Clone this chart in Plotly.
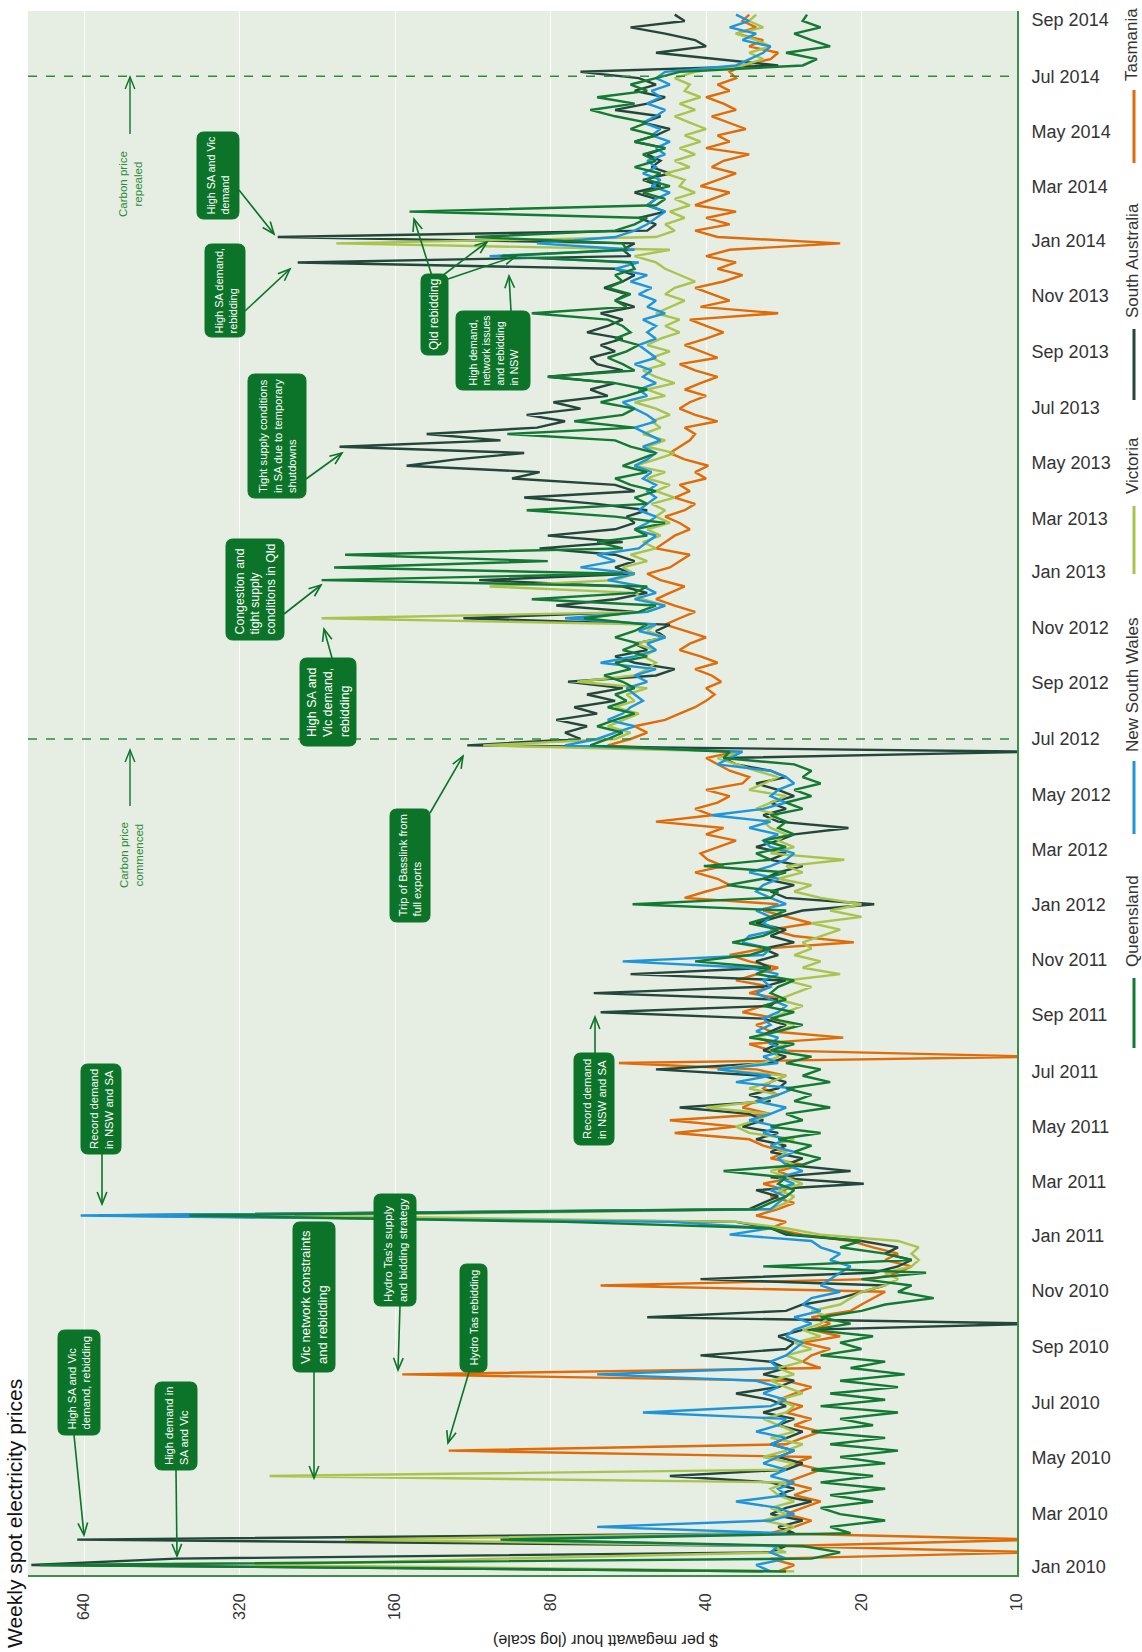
import plotly.graph_objects as go
import pandas as pd
import math

# ---------------- DATA (weekly spot prices, $/MWh) ----------------
weeks = pd.date_range("2009-12-27", periods=246, freq="7D")

qld = [28, 780, 25, 22, 26, 100, 21, 23, 18, 22, 24, 19, 23,
       18, 24, 19, 25, 18, 22, 17, 23, 18, 25, 19, 22, 17,
       24, 18, 23, 17, 22, 16.5, 21, 18, 24, 20, 22, 19, 25,
       21, 24, 20, 18, 14.5, 17, 16, 20, 15, 31, 16, 18, 22, 20,
       27, 30, 75, 400, 32, 30, 28, 27, 29, 28, 37, 26, 24,
       27, 25, 29, 24, 30, 26, 28, 23, 27, 25, 28, 23, 26,
       24, 28, 25, 30, 27, 33, 29, 26, 30, 27, 31, 28, 30,
       29, 27, 32, 30, 42, 33, 30, 35.6, 31, 29, 33, 30, 28,
       55.5, 30, 29, 36.4, 31, 28, 40.4, 30, 32, 28, 31, 27, 29,
       28, 30, 26, 28, 25, 27, 24, 26, 25, 27, 37, 36, 67,
       62, 58, 65, 60, 55, 62, 57, 60, 55, 58, 63, 56, 60,
       52, 58, 54, 60, 55, 52, 69, 54, 50, 87, 55, 52, 222,
       58, 210, 81, 200, 58, 65, 52, 55, 48, 60, 89, 52, 55,
       50, 56, 60, 52, 58, 54, 50, 56, 60, 97, 55, 72, 58,
       55, 64, 57, 52, 60, 81, 55, 58, 62, 57, 54, 60, 56,
       58, 62, 87, 57, 60, 56, 62, 58, 60, 55, 56, 100, 57,
       58, 112, 60, 55, 52, 150, 50, 48, 53, 47, 52, 49, 55,
       50, 53, 48, 55, 50, 56, 52, 60, 67, 55, 65, 52, 56,
       50, 45, 26, 24.4, 28, 23, 25, 27, 24, 26, 25.5]

nsw = [30, 32, 28, 30, 29, 99, 28, 65, 30, 27, 29, 35, 28,
       29, 27, 30, 28, 31, 29, 27, 30, 28, 32, 29, 28, 53,
       30, 28, 31, 29, 32, 65, 29, 30, 28, 27, 26, 28, 27,
       25, 27, 24, 26, 25, 22, 24, 23, 22, 21, 23, 22, 24, 25,
       36, 30, 47, 650, 30, 29, 28, 30, 27, 29, 26, 28, 29,
       27, 30, 28, 31, 29, 33, 30, 28, 32, 29, 27, 35, 30,
       38, 29, 31, 28, 30, 29, 32, 30, 31, 29, 28, 30, 32,
       30, 31, 29, 33, 58, 31, 30, 34, 33, 29, 31, 30, 32,
       28, 30, 32, 31, 29, 33, 30, 28, 27, 30, 31, 29, 33,
       30, 39, 31, 28, 30, 29, 27, 28, 30, 38, 36, 34, 75,
       65, 60, 55, 62, 58, 56, 53, 55, 57, 52, 55, 50, 64,
       55, 50, 52, 48, 54, 50, 75, 52, 48, 55, 50, 53, 62,
       55, 70, 60, 65, 54, 52, 50, 55, 52, 50, 54, 52, 50,
       52, 50, 53, 51, 55, 52, 50, 53, 49, 52, 55, 50, 52,
       55, 58, 52, 54, 50, 53, 51, 55, 50, 52, 54, 50, 52,
       50, 53, 48, 52, 50, 54, 51, 56, 52, 60, 54, 105, 55,
       85, 60, 55, 52, 50, 48, 52, 50, 47, 51, 49, 53, 50,
       52, 48, 50, 47, 51, 49, 53, 50, 48, 52, 49, 51, 47,
       50, 48, 35, 33, 31, 30, 34, 32, 36, 33, 35]

vic = [27, 300, 100, 28, 30, 200, 29, 27, 31, 28, 30, 27, 29,
       30, 28, 280, 29, 27, 31, 28, 26, 30, 27, 29, 31, 28,
       27, 29, 26, 28, 30, 27, 29, 26, 28, 25, 27, 24, 26,
       24, 23, 25, 22, 21, 20, 18, 17, 18, 16, 15.5, 16, 15.5, 17,
       24, 28, 35, 250, 30, 28, 27, 29, 26, 28, 30, 27, 29,
       28, 30, 27, 33, 35, 32, 30, 40, 31, 29, 33, 30, 28,
       38, 31, 29, 30, 28, 32, 29, 27, 30, 28, 26, 29, 27,
       25, 28, 22, 26, 24, 27, 25, 26, 24, 22, 25, 20, 23,
       20, 24, 27, 25, 29, 26, 28, 21.6, 30, 27, 29, 28, 30,
       31, 29, 32, 30, 28, 33, 31, 29, 32, 35, 38, 34, 108,
       60, 56, 62, 58, 54, 60, 55, 57, 52, 71, 55, 52, 50,
       53, 50, 55, 48, 52, 50, 222, 52, 48, 53, 55, 105, 60,
       55, 58, 52, 56, 50, 53, 49, 52, 47, 50, 48, 51, 46,
       50, 47, 52, 48, 55, 50, 46, 52, 48, 53, 49, 51, 47,
       50, 55, 48, 52, 46, 50, 53, 48, 51, 47, 52, 49, 45,
       48, 45, 50, 47, 44, 48, 46, 42, 45, 48, 50, 55, 47,
       208, 50, 46, 48, 44, 47, 43, 46, 42, 45, 44, 48, 43,
       46, 42, 45, 41, 44, 40, 43, 46, 42, 45, 41, 44, 43,
       46, 42, 34, 31, 33, 30, 32, 35, 31, 33, 32]

sa = [28, 810, 425, 30, 28, 660, 27, 29, 26, 30, 28, 25, 29,
      27, 30, 47, 28, 26, 29, 27, 30, 28, 26, 29, 27, 31,
      28, 30, 35, 29, 27, 31, 28, 30, 41, 28, 27, 29, 26,
      9, 52, 28, 26, 22, 20, 18, 41, 19, 17, 16, 18, 17, 20,
      28, 30, 35, 600, 33, 31, 29, 32, 19.8, 30, 21, 28, 26,
      30, 28, 32, 29, 34, 31, 33, 45, 30, 33, 29, 28, 31,
      50, 30, 28, 31, 29, 32, 30, 28, 31, 64, 30, 29, 66,
      31, 28, 56, 30, 32, 29, 31, 27, 30, 28, 32, 29, 26,
      18.9, 28, 30, 27, 31, 29, 26, 30, 28, 32, 29, 27, 21.2,
      29, 31, 28, 30, 27, 29, 32, 28, 30, 35, 37, 9, 116,
      70, 75, 68, 78, 65, 72, 60, 68, 58, 74, 50, 46, 55,
      60, 52, 55, 48, 50, 47, 118, 55, 78, 60, 52, 58, 110,
      55, 60, 55, 60, 84, 58, 81, 60, 55, 57, 52, 65, 90,
      55, 60, 95, 84, 152, 122, 90, 205, 100, 139, 85, 75, 89,
      70, 79, 62, 67, 60, 81, 58, 65, 67, 60, 64, 58, 68,
      62, 58, 64, 55, 60, 57, 63, 58, 55, 60, 247, 56, 58,
      55, 270, 52, 50, 54, 48, 52, 50, 55, 49, 53, 47, 51,
      49, 52, 48, 55, 50, 47, 53, 49, 60, 52, 48, 55, 50,
      54, 70, 29, 38, 50, 40, 42, 48, 56, 44, 46]

tas = [29, 27, 30, 9, 28, 9, 30, 27, 25, 28, 26, 24, 27,
       25, 28, 26, 24, 27, 25, 126, 28, 26, 24, 27, 25, 28,
       26, 29, 27, 25, 28, 155, 24, 26, 25, 23, 26, 22, 25,
       23, 25, 21, 20, 19, 18, 64, 19, 17, 16, 18, 17, 19, 21,
       26, 30, 28, 32, 29, 27, 30, 28, 31, 27, 29, 26, 30,
       28, 31, 33, 46, 35, 47, 30, 34, 32, 29, 31, 30, 28,
       32, 59, 9, 30, 33, 21.7, 30, 32, 29, 34, 31, 28, 33,
       30, 35, 32, 29, 33, 36, 31, 20.7, 27, 30, 25, 28, 31,
       29, 44, 40, 36, 38, 42, 37, 39.7, 41, 38, 35, 40, 37,
       50, 39, 42, 38, 36, 40, 34, 33, 36, 38, 40, 35, 62,
       56, 52, 55, 48, 45, 42, 40, 38.5, 40, 37.4, 39, 42, 38,
       41, 45, 43, 40, 44, 48, 45, 42, 46, 50, 47, 44, 49,
       52, 47, 45, 43, 50, 48, 46, 43, 45, 48, 44, 42, 46,
       43, 45, 40, 42, 39.6, 44, 47, 45, 43, 42, 44, 38, 42,
       45, 43, 40, 44, 41, 38, 42, 45, 38, 41, 44, 40, 37,
       40, 43, 29, 41, 36, 39, 42, 37, 34, 38, 35, 40, 36,
       22, 38, 42, 36, 40, 35, 42, 39, 36, 41, 38, 35, 39,
       37, 33, 40, 36, 38, 33.5, 36, 39, 35, 37, 40, 36, 38,
       35, 36, 34, 30, 29, 33, 31, 35, 32, 34, 33]

regions = ["Queensland", "New South Wales", "Victoria", "South Australia", "Tasmania"]
price_ticks = [10, 20, 40, 80, 160, 320, 640]
carbon_dates = ["2012-07-01", "2014-07-01"]

# ---------------- STYLE ----------------
COLORS = {"Queensland": "#137a33", "New South Wales": "#1f95d9", "Victoria": "#a9c44e",
          "South Australia": "#24473b", "Tasmania": "#e06b07"}
GREEN = "#0c7428"
SANS = "Liberation Sans, Arial, sans-serif"
W, H = 1142, 1652
L, R, T, B = 28, 1017, 11, 1575

def px(X):
    return (X - L) / (R - L)

def py(Y):
    return (B - Y) / (B - T)

series = {"Queensland": qld, "New South Wales": nsw, "Victoria": vic,
          "South Australia": sa, "Tasmania": tas}
for k, v in series.items():
    assert len(v) == len(weeks), (k, len(v))

fig = go.Figure()
for name in ["Tasmania", "South Australia", "Victoria", "New South Wales", "Queensland"]:
    fig.add_trace(go.Scatter(x=series[name], y=weeks, mode="lines", name=name,
                             line=dict(color=COLORS[name], width=2.4),
                             showlegend=False, hoverinfo="skip"))

shapes = []
annotations = []

# carbon price dashed lines
for d in carbon_dates:
    shapes.append(dict(type="line", xref="paper", x0=0, x1=1, yref="y", y0=d, y1=d,
                       line=dict(color="#2f8c3c", width=1.5, dash="dash"), layer="above"))

def arrow(tail, tip, width=1.6):
    tx, ty = tail
    hx, hy = tip
    shapes.append(dict(type="line", xref="paper", yref="paper",
                       x0=px(tx), y0=py(ty), x1=px(hx), y1=py(hy),
                       line=dict(color=GREEN, width=width), layer="above"))
    ang = math.atan2(ty - hy, tx - hx)
    hl, ha = 13, 0.38
    p1 = (hx + hl * math.cos(ang + ha), hy + hl * math.sin(ang + ha))
    p2 = (hx + hl * math.cos(ang - ha), hy + hl * math.sin(ang - ha))
    shapes.append(dict(type="path", xref="paper", yref="paper",
                       path=f"M {px(p1[0])},{py(p1[1])} L {px(hx)},{py(hy)} L {px(p2[0])},{py(p2[1])}",
                       line=dict(color=GREEN, width=width), layer="above"))

def rounded(x0, y0, x1, y1, r=7):
    pts = [
        f"M {px(x0 + r)},{py(y0)}",
        f"L {px(x1 - r)},{py(y0)}", f"Q {px(x1)},{py(y0)} {px(x1)},{py(y0 + r)}",
        f"L {px(x1)},{py(y1 - r)}", f"Q {px(x1)},{py(y1)} {px(x1 - r)},{py(y1)}",
        f"L {px(x0 + r)},{py(y1)}", f"Q {px(x0)},{py(y1)} {px(x0)},{py(y1 - r)}",
        f"L {px(x0)},{py(y0 + r)}", f"Q {px(x0)},{py(y0)} {px(x0 + r)},{py(y0)}", "Z"]
    shapes.append(dict(type="path", xref="paper", yref="paper", path=" ".join(pts),
                       fillcolor=GREEN, line=dict(color=GREEN, width=1), layer="above"))

def box(text, x0, y0, x1, y1, size):
    rounded(x0, y0, x1, y1)
    annotations.append(dict(text=text, xref="paper", yref="paper",
                            x=px((x0 + x1) / 2), y=py((y0 + y1) / 2),
                            xanchor="center", yanchor="middle", textangle=-90, showarrow=False,
                            font=dict(family=SANS, size=size, color="white"), align="left"))

def note(text, cx, cy, size=11.5):
    annotations.append(dict(text=text, xref="paper", yref="paper", x=px(cx), y=py(cy),
                            xanchor="center", yanchor="middle", textangle=-90, showarrow=False,
                            font=dict(family=SANS, size=size, color="#2f8c3c"), align="center"))

box("High SA and Vic<br>demand, rebidding", 58, 1330, 100, 1435, 11.3)
arrow((74, 1435), (84, 1535))
box("High demand in<br>SA and Vic", 155, 1382, 197, 1470, 11.2)
arrow((176, 1470), (177, 1556))
box("Vic network constraints<br>and rebidding", 293, 1222, 335, 1372, 13)
arrow((314, 1372), (314, 1478))
box("Hydro Tas's supply<br>and bidding strategy", 374, 1194, 416, 1306, 11.5)
arrow((400, 1306), (398, 1370))
box("Hydro Tas rebidding", 460, 1264, 487, 1372, 10.8)
arrow((469, 1372), (448, 1443))
box("Record demand<br>in NSW and SA", 81, 1064, 121, 1154, 11.3)
arrow((102, 1154), (102, 1204))
box("Record demand<br>in NSW and SA", 574, 1053, 614, 1145, 11.3)
arrow((595, 1053), (595, 1017))
box("Trip of Basslink from<br>full exports", 390, 809, 430, 922, 11.3)
arrow((430, 813), (463, 756))
note("Carbon price<br>commenced", 131, 855)
arrow((130, 806), (130, 750), width=1.4)
note("Carbon price<br>repealed", 131, 184)
arrow((130, 134), (130, 77), width=1.4)
box("High SA and<br>Vic demand,<br>rebidding", 300, 658, 356, 746, 12.5)
arrow((332, 658), (324, 629))
box("Congestion and<br>tight supply<br>conditions in Qld", 226, 539, 284, 640, 12.3)
arrow((284, 614), (321, 585))
box("Tight supply conditions<br>in SA due to temporary<br>shutdowns", 248, 374, 306, 498, 11.2)
arrow((306, 479), (342, 453))
box("High SA demand,<br>rebidding", 205, 244, 245, 337, 11)
arrow((245, 311), (290, 269))
box("High SA and Vic<br>demand", 197, 132, 239, 219, 10.8)
arrow((239, 190), (274, 234))
box("Qld rebidding", 421, 274, 448, 355, 12)
arrow((432, 276), (414, 219))
arrow((442, 276), (487, 242))
arrow((448, 279), (516, 256))
box("High demand,<br>network issues<br>and rebidding<br>in NSW", 456, 311, 530, 390, 10.6)
arrow((511, 311), (509, 276))

# legend (rotated)
legend_pos = {"Queensland": (921, 978, 1048), "New South Wales": (685, 761, 834),
              "Victoria": (466, 506, 574), "South Australia": (261, 329, 400),
              "Tasmania": (45, 90, 163)}
for name in regions:
    tc, s0, s1 = legend_pos[name]
    annotations.append(dict(text=name, xref="paper", yref="paper", x=px(1132), y=py(tc),
                            xanchor="center", yanchor="middle", textangle=-90, showarrow=False,
                            font=dict(family=SANS, size=17, color="#333333")))
    shapes.append(dict(type="line", xref="paper", yref="paper", x0=px(1134), x1=px(1134),
                       y0=py(s0), y1=py(s1), line=dict(color=COLORS[name], width=3)))

# title and axis title
annotations.append(dict(text="Weekly spot electricity prices", xref="paper", yref="paper",
                        x=px(1), y=py(1650), xanchor="left", yanchor="bottom", textangle=-90,
                        showarrow=False, font=dict(family=SANS, size=21, color="#111111")))
annotations.append(dict(text="$ per megawatt hour (log scale)", xref="paper", yref="paper",
                        x=px(606), y=py(1640), xanchor="center", yanchor="middle", textangle=180,
                        showarrow=False, font=dict(family=SANS, size=16, color="#222222")))

fig.update_layout(
    width=W, height=H,
    margin=dict(l=L, r=W - R, t=T, b=H - B),
    paper_bgcolor="white", plot_bgcolor="#e6ede3",
    shapes=shapes, annotations=annotations,
    showlegend=False,
    xaxis=dict(type="log", range=[math.log10(822), 1], tickvals=price_ticks,
               ticktext=[str(v) for v in price_ticks], tickangle=-90,
               showgrid=True, gridcolor="white", gridwidth=1.2, zeroline=False,
               showline=True, linecolor="#3b8f47", linewidth=2, mirror=False,
               ticks="", ticklabelstandoff=10,
               tickfont=dict(family=SANS, size=16, color="#333333")),
    yaxis=dict(type="date", range=["2009-12-23", "2014-09-11"], side="right",
               dtick="M2", tick0="2010-01-01", tickformat="%b %Y",
               showgrid=False, zeroline=False, showline=True, linecolor="#3b8f47",
               linewidth=2, ticks="", ticklabelstandoff=9,
               tickfont=dict(family=SANS, size=18, color="#333333")),
)

fig.write_html("out.html", config={"displayModeBar": False},
               post_script="document.body.style.margin='0';document.body.style.overflow='hidden';")
